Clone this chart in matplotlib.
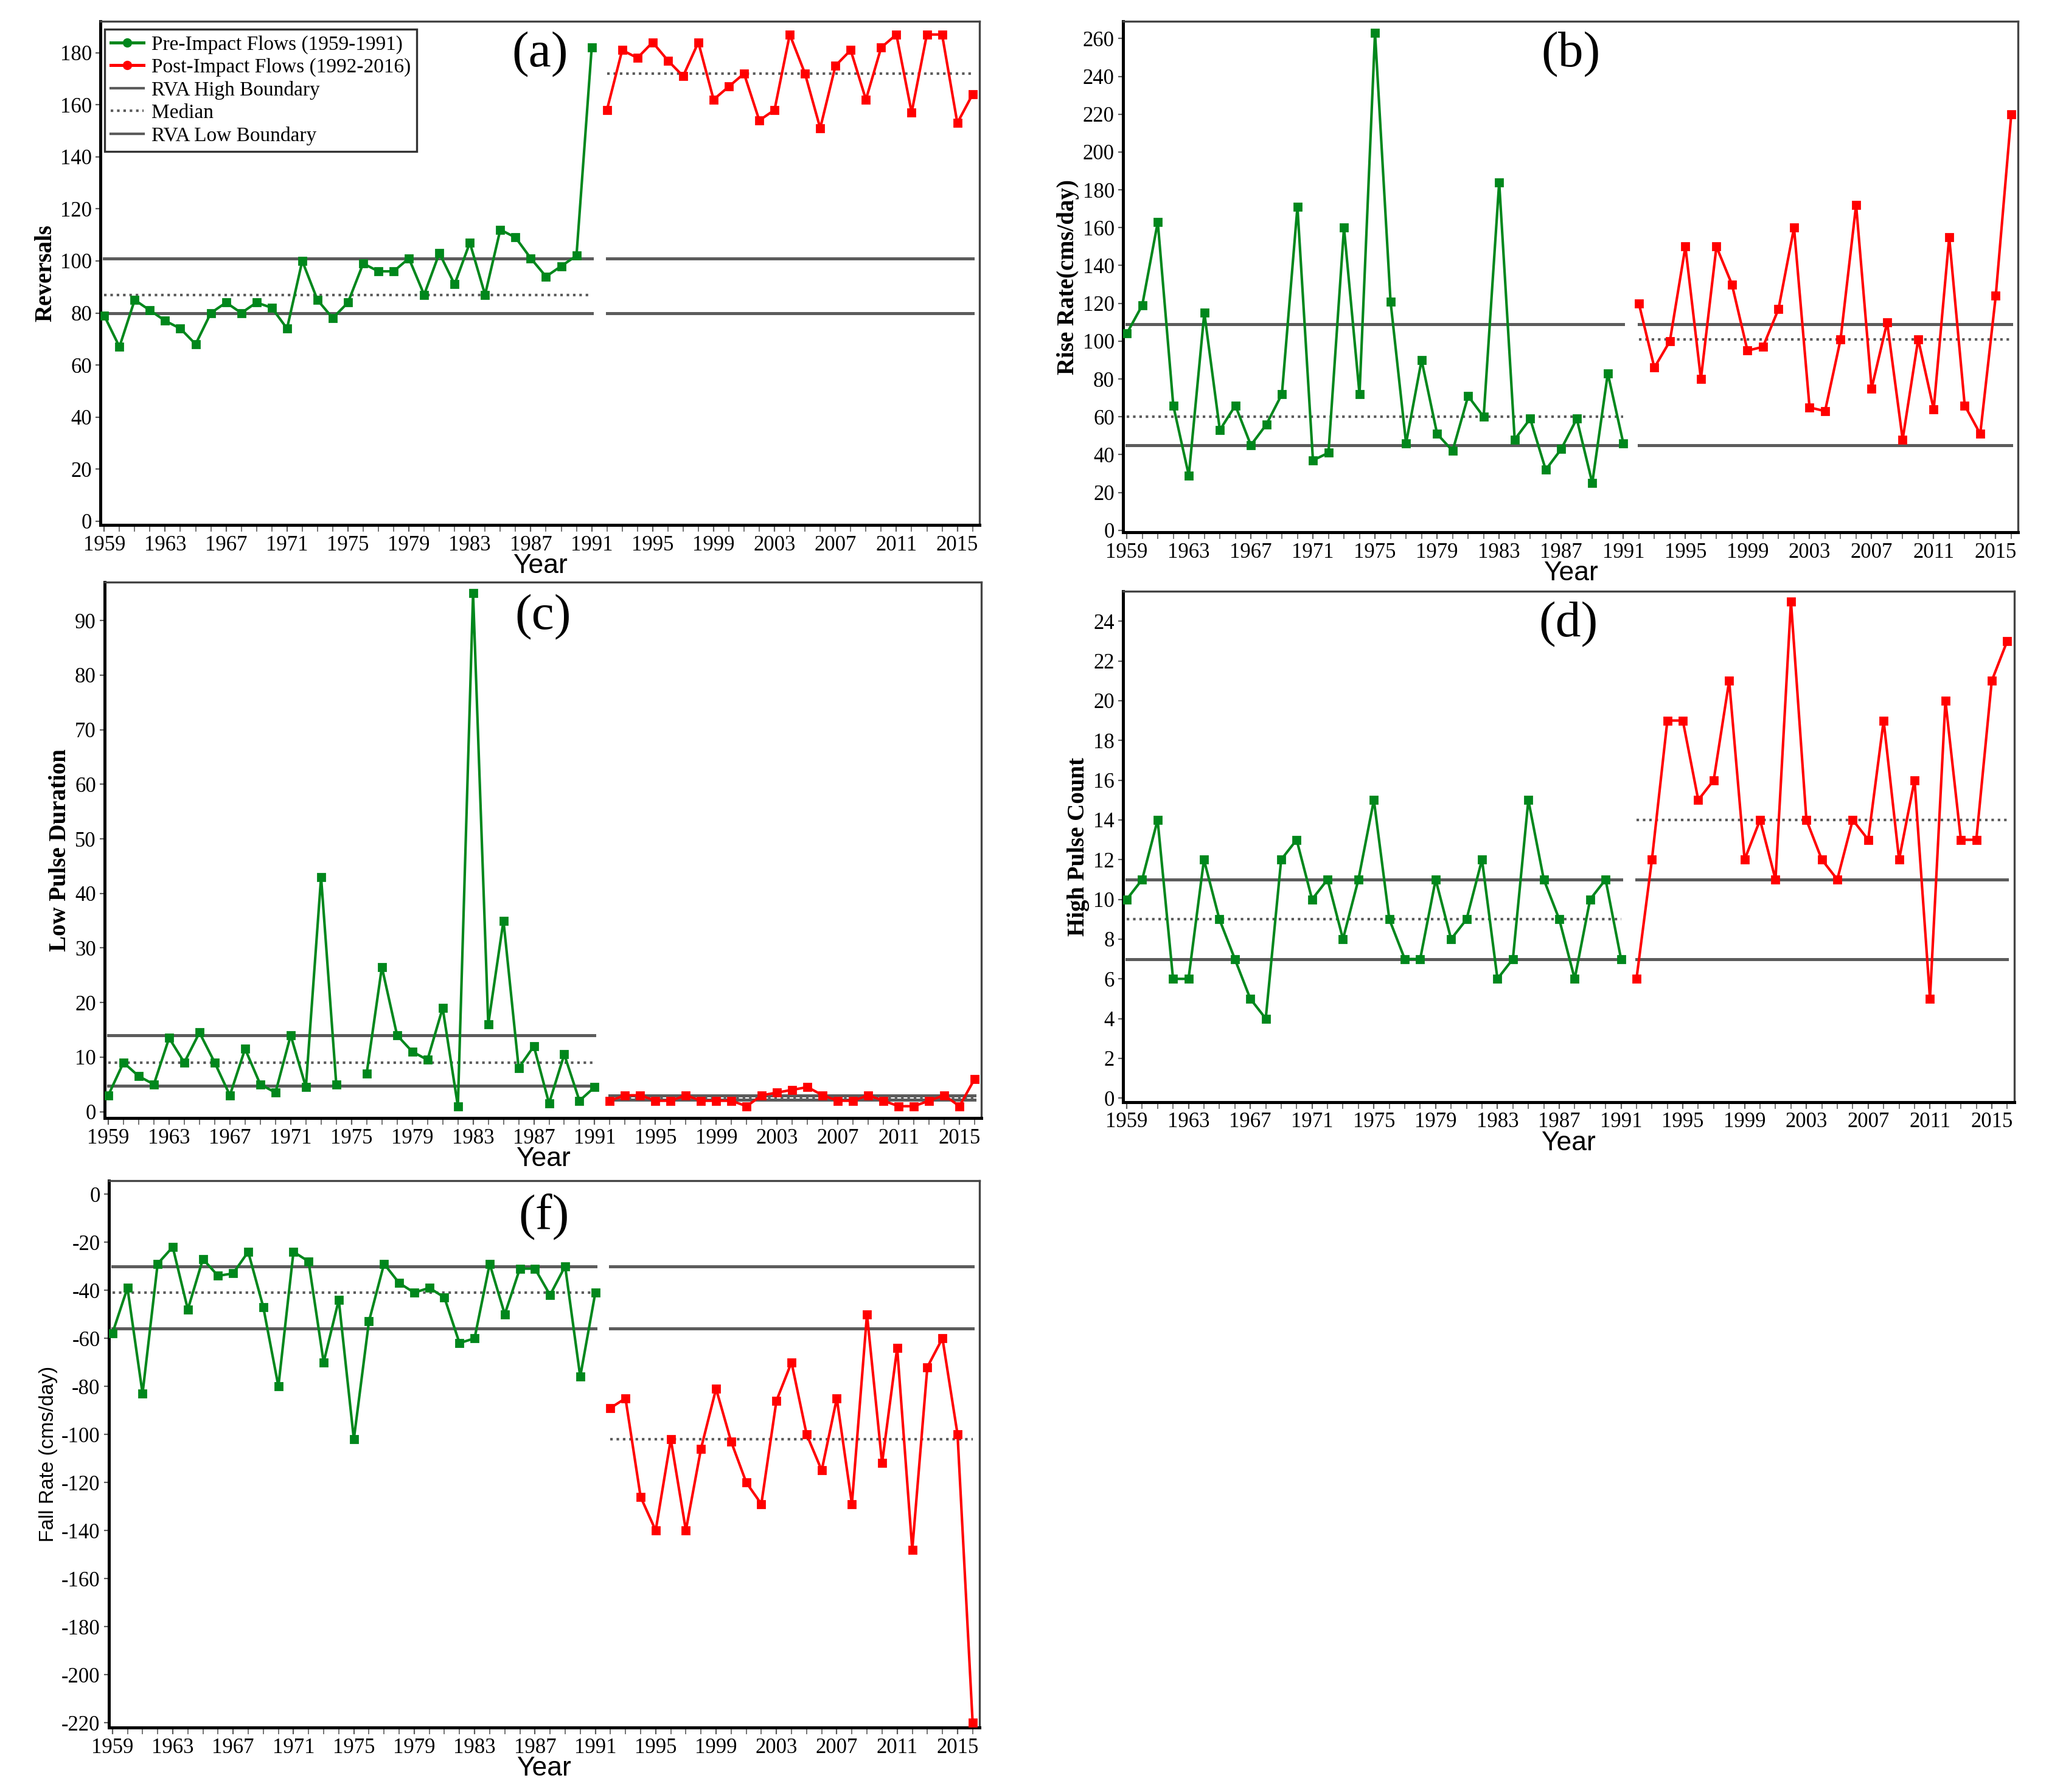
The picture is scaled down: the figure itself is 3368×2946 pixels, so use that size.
import matplotlib
matplotlib.use('Agg')
import numpy as np
import matplotlib.pyplot as plt
from matplotlib.ticker import MultipleLocator, FixedLocator
from matplotlib.lines import Line2D

plt.rcParams['axes.unicode_minus'] = False

# Years
pre_years = list(range(1959, 1992))
post_years = list(range(1992, 2017))

# (a) Reversals
pre_a = [79, 67, 85, 81, 77, 74, 68, 80, 84, 80, 84, 82, 74, 100, 85, 78, 84,
         99, 96, 96, 101, 87, 103, 91, 107, 87, 112, 109, 101, 94, 98, 102, 182]
post_a = [158, 181, 178, 184, 177, 171, 184, 162, 167, 172, 154, 158, 187,
          172, 151, 175, 181, 162, 182, 187, 157, 187, 187, 153, 164]
# high, median, low (pre segment / post segment)
rva_a = dict(pre=(101, 87, 80), post=(101, 172, 80))

# (b) Rise rate
pre_b = [104, 119, 163, 66, 29, 115, 53, 66, 45, 56, 72, 171, 37, 41, 160, 72,
         263, 121, 46, 90, 51, 42, 71, 60, 184, 48, 59, 32, 43, 59, 25, 83, 46]
post_b = [120, 86, 100, 150, 80, 150, 130, 95, 97, 117, 160, 65, 63, 101, 172,
          75, 110, 48, 101, 64, 155, 66, 51, 124, 220]
rva_b = dict(pre=(109, 60, 45), post=(109, 101, 45))

# (c) Low pulse duration (1975 missing)
pre_c = [3, 9, 6.5, 5, 13.5, 9, 14.5, 9, 3, 11.5, 5, 3.5, 14, 4.5, 43, 5, np.nan,
         7, 26.5, 14, 11, 9.5, 19, 1, 95, 16, 35, 8, 12, 1.5, 10.5, 2, 4.5]
post_c = [2, 3, 3, 2, 2, 3, 2, 2, 2, 1, 3, 3.5, 4, 4.5, 3, 2, 2, 3, 2, 1, 1, 2,
          3, 1, 6]
rva_c = dict(pre=(14, 9, 4.7), post=(3, 2.6, 2.2))

# (d) High pulse count
pre_d = [10, 11, 14, 6, 6, 12, 9, 7, 5, 4, 12, 13, 10, 11, 8, 11, 15, 9, 7, 7,
         11, 8, 9, 12, 6, 7, 15, 11, 9, 6, 10, 11, 7]
post_d = [6, 12, 19, 19, 15, 16, 21, 12, 14, 11, 25, 14, 12, 11, 14, 13, 19,
          12, 16, 5, 20, 13, 13, 21, 23]
rva_d = dict(pre=(11, 9, 7), post=(11, 14, 7))

# (f) Fall rate
pre_f = [-58, -39, -83, -29, -22, -48, -27, -34, -33, -24, -47, -80, -24, -28,
         -70, -44, -102, -53, -29, -37, -41, -39, -43, -62, -60, -29, -50, -31,
         -31, -42, -30, -76, -41]
post_f = [-89, -85, -126, -140, -102, -140, -106, -81, -103, -120, -129, -86,
          -70, -100, -115, -85, -129, -50, -112, -64, -148, -72, -60, -100, -220]
rva_f = dict(pre=(-30, -41, -56), post=(-30, -102, -56))

GREEN = '#00871c'
RED = '#ff0000'
GRAY = '#5c5c5c'
SERIF = 'Liberation Serif'
SANS = 'Liberation Sans'


def draw_panel(ax, pre, post, rva, ylim, yticks, ylabel, tag, ylabel_sans=False):
    # RVA boundaries and medians, drawn separately for both periods
    for (x0, x1), (hi, med, lo) in [((1959, 1991), rva['pre']), ((1992, 2016), rva['post'])]:
        ax.plot([x0, x1], [hi, hi], color=GRAY, lw=1.8, zorder=2)
        ax.plot([x0, x1], [lo, lo], color=GRAY, lw=1.8, zorder=2)
        ax.plot([x0, x1], [med, med], color=GRAY, lw=1.5, ls=(0, (1, 1.5)), zorder=2)

    ax.plot(pre_years, pre, color=GREEN, lw=1.5, marker='s', ms=4.5, zorder=3)
    ax.plot(post_years, post, color=RED, lw=1.5, marker='s', ms=4.5, zorder=3)

    ax.set_xlim(1958.75, 2016.45)
    ax.set_ylim(*ylim)
    ax.xaxis.set_major_locator(FixedLocator(range(1959, 2016, 4)))
    ax.xaxis.set_minor_locator(MultipleLocator(1))
    ax.set_yticks(yticks)
    ax.tick_params(axis='both', which='both', direction='out', color=GRAY,
                   labelsize=12.5, pad=2)
    ax.tick_params(axis='x', which='both', length=4)
    ax.tick_params(axis='y', length=3)
    for lab in ax.get_xticklabels() + ax.get_yticklabels():
        lab.set_family(SERIF)

    for side in ['left', 'bottom']:
        ax.spines[side].set_color('black')
        ax.spines[side].set_linewidth(1.8)
    for side in ['top', 'right']:
        ax.spines[side].set_color('#444444')
        ax.spines[side].set_linewidth(1.2)

    ax.set_xlabel('Year', family=SANS, fontsize=16, labelpad=-1)
    if ylabel_sans:
        ax.set_ylabel(ylabel, family=SANS, fontsize=12, labelpad=2)
    else:
        ax.set_ylabel(ylabel, family=SERIF, fontsize=14, fontweight='bold', labelpad=2)
    ax.text(0.5, 0.935, tag, transform=ax.transAxes, ha='center', va='center',
            family=SERIF, fontsize=30)


fig = plt.figure(figsize=(16.84, 14.73), dpi=200)

ax_a = fig.add_axes([0.049, 0.707, 0.429, 0.281])
ax_b = fig.add_axes([0.548, 0.703, 0.437, 0.285])
ax_c = fig.add_axes([0.051, 0.376, 0.428, 0.299])
ax_d = fig.add_axes([0.548, 0.385, 0.435, 0.285])
ax_f = fig.add_axes([0.053, 0.036, 0.425, 0.305])

draw_panel(ax_a, pre_a, post_a, rva_a, (-1.5, 192), range(0, 181, 20), 'Reversals', '(a)')
draw_panel(ax_b, pre_b, post_b, rva_b, (-1, 269), range(0, 261, 20), 'Rise Rate(cms/day)', '(b)')
draw_panel(ax_c, pre_c, post_c, rva_c, (-1.2, 97), range(0, 91, 10), 'Low Pulse Duration', '(c)')
draw_panel(ax_d, pre_d, post_d, rva_d, (-0.2, 25.5), range(0, 25, 2), 'High Pulse Count', '(d)')
draw_panel(ax_f, pre_f, post_f, rva_f, (-222, 5.5), range(0, -221, -20), 'Fall Rate (cms/day)', '(f)',
           ylabel_sans=True)

handles = [
    Line2D([], [], color=GREEN, lw=1.8, marker='o', ms=4.5),
    Line2D([], [], color=RED, lw=1.8, marker='o', ms=4.5),
    Line2D([], [], color=GRAY, lw=1.5),
    Line2D([], [], color=GRAY, lw=1.5, ls=(0, (1, 1.5))),
    Line2D([], [], color=GRAY, lw=1.5),
]
labels = ['Pre-Impact Flows (1959-1991)', 'Post-Impact Flows (1992-2016)',
          'RVA High Boundary', 'Median', 'RVA Low Boundary']
leg = ax_a.legend(handles, labels, loc='upper left', bbox_to_anchor=(0.005, 0.985),
                  prop={'family': SERIF, 'size': 12}, frameon=True, fancybox=False,
                  edgecolor='#333333', framealpha=1, handlelength=1.6,
                  handletextpad=0.4, labelspacing=0.2, borderpad=0.3, borderaxespad=0)
leg.get_frame().set_linewidth(1.2)

fig.savefig('out.png', dpi=200)
